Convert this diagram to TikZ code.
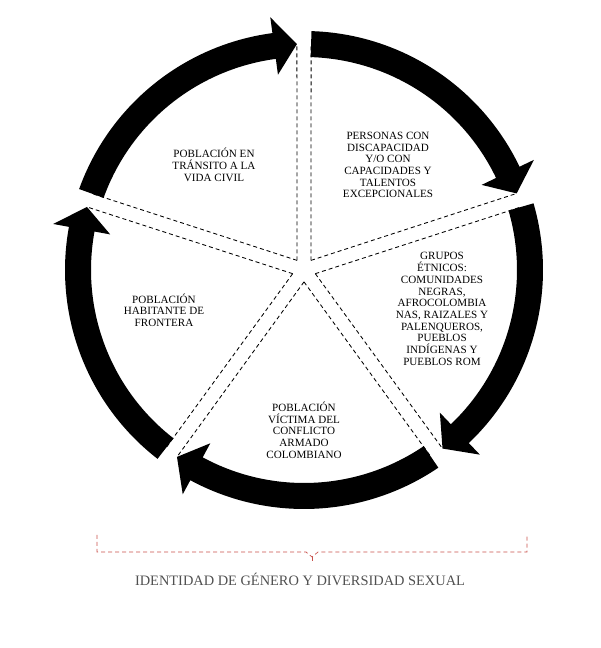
\documentclass[tikz,border=0pt]{standalone}
\usepackage{fontspec}
\setmainfont{Liberation Serif}
\usetikzlibrary{calc}
\definecolor{brk}{HTML}{C8504A}
\definecolor{lbl}{HTML}{505050}
\tikzset{
  band/.style={fill=black},
  sep/.style={draw=black,line width=0.85pt,dash pattern=on 4pt off 3pt},
  txt/.style={align=center,font=\fontsize{11.1}{11.7}\selectfont,inner sep=0pt},
  brace/.style={draw=brk,line width=0.7pt,dash pattern=on 4pt off 3pt}
}
\begin{document}
\begin{tikzpicture}[x=1pt,y=1pt]
\useasboundingbox (0,0) rectangle (600,648);
\coordinate (C) at (304,378);
% arrows
\foreach \g in {90,18,-54,-126,-198} {
  \pgfmathsetmacro\s{\g-1.8}
  \pgfmathsetmacro\t{\g-72+1.8}
  \pgfmathsetmacro\b{\g-72+1.8+5.8}
  \fill[band] ($(C)+(\s:239)$) arc[start angle=\s, end angle=\b, radius=239]
     -- ($(C)+(\b:255)$) -- ($(C)+(\t:226)$) -- ($(C)+(\b:197)$)
     -- ($(C)+(\b:213)$) arc[start angle=\b, end angle=\s, radius=213] -- cycle;
}
% separators
\foreach \g in {90,18,-54,-126,-198} {
  \draw[sep] ($(C)+(\g+36:11.9)$) -- ($(C)+(\g+1.8:226)$);
  \draw[sep] ($(C)+(\g-36:11.9)$) -- ($(C)+(\g-1.8:226)$);
}
% labels
\node[txt] (n1) at (214,483) {POBLACIÓN EN\\TRÁNSITO A LA\\VIDA CIVIL};
\node[txt] (n2) at (388,483) {PERSONAS CON\\DISCAPACIDAD\\Y/O CON\\CAPACIDADES Y\\TALENTOS\\EXCEPCIONALES};
\node[txt] (n3) at (442,339) {GRUPOS\\ÉTNICOS:\\COMUNIDADES\\NEGRAS,\\AFROCOLOMBIA\\NAS, RAIZALES Y\\PALENQUEROS,\\PUEBLOS\\INDÍGENAS Y\\PUEBLOS ROM};
\node[txt] (n4) at (304,218) {POBLACIÓN\\VÍCTIMA DEL\\CONFLICTO\\ARMADO\\COLOMBIANO};
\node[txt] (n5) at (164,338) {POBLACIÓN\\HABITANTE DE\\FRONTERA};
% brace
\draw[brace] (97,113) -- (97,96) -- (306,96) -- (312,91) -- (318,96) -- (527,96) -- (527,113);
\draw[brace] (312,91) -- (312,85);
\node[inner sep=0pt,text=lbl,font=\fontsize{14.4}{16}\selectfont] (lab) at (300,69) {IDENTIDAD DE GÉNERO Y DIVERSIDAD SEXUAL};
\end{tikzpicture}
\end{document}
